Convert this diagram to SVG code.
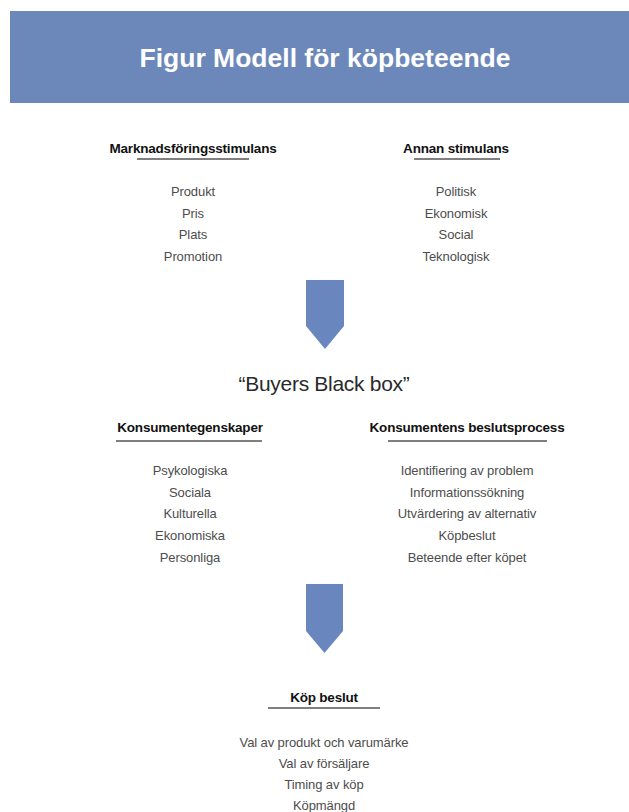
<svg xmlns="http://www.w3.org/2000/svg" width="629" height="812" viewBox="0 0 629 812">
  <style>
    .title { font-family: "Liberation Sans", Arial, sans-serif; font-weight: bold; font-size: 26.5px; fill: #ffffff; text-anchor: middle; }
    .head { font-family: "Liberation Sans", Arial, sans-serif; font-weight: bold; font-size: 13.5px; fill: #111111; text-anchor: middle; letter-spacing: -0.2px; }
    .item { font-family: "Liberation Sans", Arial, sans-serif; font-size: 13px; fill: #4d4d4d; text-anchor: middle; letter-spacing: -0.1px; }
    .box { font-family: "Liberation Sans", Arial, sans-serif; font-size: 21px; fill: #2a2a2a; text-anchor: middle; letter-spacing: -0.3px; }
    .rule { stroke: #555555; stroke-width: 1.5; }
    .arrow { fill: #6a86bf; }
  </style>
  <rect width="629" height="812" fill="#ffffff"/>
  <g id="header">
    <rect x="10" y="11" width="619" height="92" fill="#6c88ba"/>
    <text class="title" x="325" y="67">Figur Modell för köpbeteende</text>
  </g>
  <g id="marknadsforingsstimulans">
    <text class="head" x="193" y="153">Marknadsföringsstimulans</text>
    <line class="rule" x1="137" y1="159" x2="249" y2="159"/>
    <text class="item" x="193" y="196">Produkt</text>
    <text class="item" x="193" y="218">Pris</text>
    <text class="item" x="193" y="239">Plats</text>
    <text class="item" x="193" y="261">Promotion</text>
  </g>
  <g id="annan-stimulans">
    <text class="head" x="456" y="153">Annan stimulans</text>
    <line class="rule" x1="414" y1="159" x2="500" y2="159"/>
    <text class="item" x="456" y="196">Politisk</text>
    <text class="item" x="456" y="218">Ekonomisk</text>
    <text class="item" x="456" y="239">Social</text>
    <text class="item" x="456" y="261">Teknologisk</text>
  </g>
  <g id="connectors">
    <polygon class="arrow" points="306,280 344,280 344,326 325,349 306,326"/>
    <polygon class="arrow" points="306,584 343,584 343,631 324.5,653 306,631"/>
  </g>
  <g id="black-box">
    <text class="box" x="324" y="391">“Buyers Black box”</text>
  </g>
  <g id="konsumentegenskaper">
    <text class="head" x="190" y="432">Konsumentegenskaper</text>
    <line class="rule" x1="116" y1="441" x2="262" y2="441"/>
    <text class="item" x="190" y="475">Psykologiska</text>
    <text class="item" x="190" y="497">Sociala</text>
    <text class="item" x="190" y="518">Kulturella</text>
    <text class="item" x="190" y="540">Ekonomiska</text>
    <text class="item" x="190" y="562">Personliga</text>
  </g>
  <g id="beslutsprocess">
    <text class="head" x="467" y="432">Konsumentens beslutsprocess</text>
    <line class="rule" x1="388" y1="441" x2="547" y2="441"/>
    <text class="item" x="467" y="475">Identifiering av problem</text>
    <text class="item" x="467" y="497">Informationssökning</text>
    <text class="item" x="467" y="518">Utvärdering av alternativ</text>
    <text class="item" x="467" y="540">Köpbeslut</text>
    <text class="item" x="467" y="562">Beteende efter köpet</text>
  </g>
  <g id="kop-beslut">
    <text class="head" x="324" y="702">Köp beslut</text>
    <line class="rule" x1="268" y1="708" x2="380" y2="708"/>
    <text class="item" x="324" y="747">Val av produkt och varumärke</text>
    <text class="item" x="324" y="768">Val av försäljare</text>
    <text class="item" x="324" y="789">Timing av köp</text>
    <text class="item" x="324" y="810">Köpmängd</text>
  </g>
</svg>
